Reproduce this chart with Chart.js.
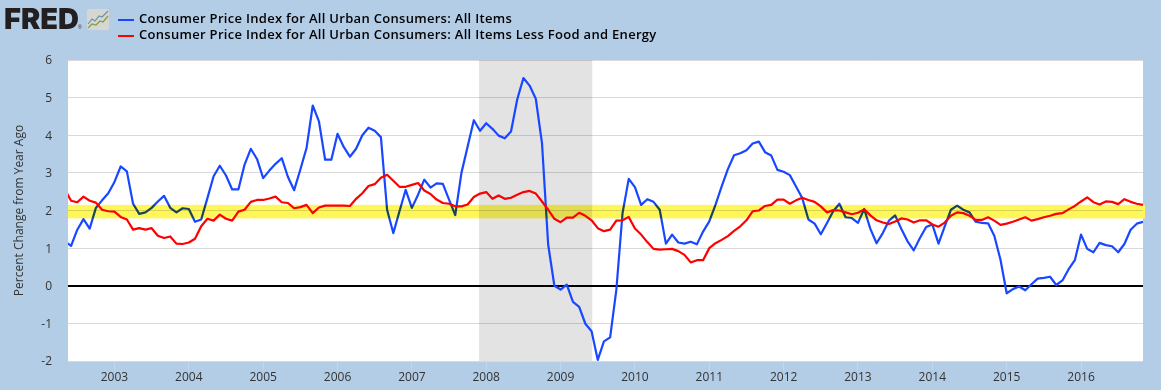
<!DOCTYPE html>
<html>
<head>
  <meta charset="utf-8">
  <title>Consumer Price Index, Percent Change from Year Ago</title>
  <script src="https://cdn.jsdelivr.net/npm/chart.js@4/dist/chart.umd.js"></script>
  <style>
    html, body { margin: 0; padding: 0; background: #b3cde6; }
    #wrap { position: relative; width: 1161px; height: 390px; overflow: hidden; }
    #logo { position: absolute; left: 4px; top: 3px; font: 900 29px/32px "Inter", sans-serif; color: #231f20; letter-spacing: 0; white-space: nowrap; }
    #logo small { font: 400 5px/5px "Liberation Sans", sans-serif; letter-spacing: 0; margin-left: -1px; }
    #icon { position: absolute; left: 87px; top: 9px; }
    #legend { position: absolute; left: 118px; top: 10px; font: 600 13px/16px "Open Sans", sans-serif; color: #000; letter-spacing: 0.3px; }
    #legend div { height: 16px; white-space: nowrap; }
    #legend span { display: inline-block; width: 16px; height: 2px; margin-right: 5px; vertical-align: 2px; }
  </style>
  <script>
    // first point is May 2002, one value per month up to Nov 2016
    var seriesNames = [
      'Consumer Price Index for All Urban Consumers: All Items',
      'Consumer Price Index for All Urban Consumers: All Items Less Food and Energy'
    ];
    var yearLabels = ['2003', '2004', '2005', '2006', '2007', '2008', '2009', '2010', '2011', '2012', '2013', '2014', '2015', '2016'];
    var firstYearIndex = 8; // Jan 2003

    var allItems = [
      1.18, 1.06, 1.49, 1.77, 1.52, 2.07, 2.27, 2.46,
      2.76, 3.17, 3.04, 2.18, 1.91, 1.95, 2.07, 2.24, 2.39, 2.07, 1.95, 2.06,
      2.04, 1.70, 1.76, 2.33, 2.91, 3.19, 2.93, 2.56, 2.56, 3.22, 3.64, 3.37,
      2.86, 3.06, 3.24, 3.39, 2.89, 2.54, 3.09, 3.66, 4.79, 4.37, 3.35, 3.35,
      4.04, 3.69, 3.43, 3.64, 4.00, 4.20, 4.12, 3.95, 2.02, 1.40, 1.98, 2.55,
      2.07, 2.42, 2.82, 2.61, 2.72, 2.71, 2.29, 1.88, 3.00, 3.70, 4.40, 4.12,
      4.32, 4.17, 3.99, 3.92, 4.10, 4.95, 5.52, 5.32, 4.97, 3.79, 1.09, 0.00,
      -0.10, 0.03, -0.43, -0.56, -1.01, -1.21, -1.97, -1.48, -1.37, -0.11, 1.93, 2.84,
      2.62, 2.15, 2.30, 2.23, 2.02, 1.12, 1.36, 1.15, 1.12, 1.17, 1.10, 1.44,
      1.71, 2.15, 2.64, 3.10, 3.47, 3.52, 3.60, 3.78, 3.83, 3.55, 3.46, 3.08,
      3.03, 2.94, 2.64, 2.33, 1.76, 1.65, 1.37, 1.67, 1.98, 2.18, 1.82, 1.80,
      1.67, 2.04, 1.51, 1.13, 1.40, 1.73, 1.87, 1.51, 1.18, 0.94, 1.27, 1.56,
      1.63, 1.12, 1.58, 2.02, 2.13, 2.02, 1.95, 1.70, 1.67, 1.66, 1.33, 0.69,
      -0.20, -0.09, -0.02, -0.12, 0.04, 0.19, 0.21, 0.24, 0.02, 0.14, 0.44, 0.68,
      1.36, 0.98, 0.89, 1.14, 1.08, 1.05, 0.89, 1.11, 1.49, 1.65, 1.70
    ];
    var lessFoodEnergy = [
      2.55, 2.26, 2.22, 2.37, 2.26, 2.21, 2.02, 1.98,
      1.97, 1.83, 1.76, 1.49, 1.53, 1.49, 1.53, 1.33, 1.27, 1.31, 1.12, 1.11,
      1.15, 1.25, 1.58, 1.78, 1.73, 1.89, 1.78, 1.73, 1.97, 2.02, 2.23, 2.28,
      2.28, 2.32, 2.37, 2.22, 2.20, 2.06, 2.09, 2.15, 1.93, 2.08, 2.13, 2.13,
      2.13, 2.13, 2.12, 2.31, 2.46, 2.65, 2.70, 2.87, 2.95, 2.79, 2.63, 2.63,
      2.68, 2.73, 2.53, 2.44, 2.29, 2.20, 2.18, 2.11, 2.11, 2.16, 2.36, 2.45,
      2.49, 2.31, 2.40, 2.31, 2.34, 2.42, 2.49, 2.52, 2.45, 2.24, 2.02, 1.78,
      1.69, 1.81, 1.81, 1.94, 1.86, 1.74, 1.53, 1.45, 1.49, 1.73, 1.74, 1.83,
      1.52, 1.36, 1.16, 0.98, 0.96, 0.97, 0.98, 0.92, 0.82, 0.62, 0.68, 0.68,
      1.00, 1.13, 1.22, 1.32, 1.46, 1.58, 1.74, 1.98, 2.00, 2.12, 2.15, 2.29,
      2.29, 2.18, 2.27, 2.34, 2.28, 2.23, 2.11, 1.95, 2.01, 2.00, 1.95, 1.90,
      1.94, 2.03, 1.87, 1.74, 1.68, 1.64, 1.71, 1.79, 1.76, 1.68, 1.74, 1.74,
      1.63, 1.57, 1.68, 1.86, 1.95, 1.93, 1.86, 1.75, 1.75, 1.82, 1.73, 1.62,
      1.65, 1.70, 1.76, 1.82, 1.73, 1.77, 1.82, 1.86, 1.91, 1.93, 2.03, 2.12,
      2.24, 2.35, 2.22, 2.16, 2.24, 2.23, 2.17, 2.30, 2.23, 2.18, 2.15
    ];
    var recession = [66.85, 85.1];   // Dec 2007 to Jun 2009, in months from May 2002
    var targetBand = [1.79, 2.15];

    function toPoints(values) {
      return values.map(function (v, i) { return { x: i, y: v }; });
    }

    // recession goes under the lines, the yellow band multiplies over the blue line only
    var bands = {
      id: 'bands',
      beforeDraw: function (chart) {
        var a = chart.chartArea, c = chart.ctx;
        c.save();
        c.fillStyle = '#fff';
        c.fillRect(a.left, a.top, a.right - a.left, a.bottom - a.top);
        c.restore();
      },
      beforeDatasetsDraw: function (chart) {
        var a = chart.chartArea, c = chart.ctx, x = chart.scales.x;
        var x0 = x.getPixelForValue(recession[0]);
        var x1 = x.getPixelForValue(recession[1]);
        c.save();
        c.globalCompositeOperation = 'multiply';
        c.fillStyle = '#e3e3e3';
        c.fillRect(x0, a.top, x1 - x0, a.bottom - a.top);
        c.restore();
      },
      afterDatasetDraw: function (chart, args) {
        if (args.index !== 0) return;
        var a = chart.chartArea, c = chart.ctx, y = chart.scales.y;
        var top = y.getPixelForValue(targetBand[1]);
        var bottom = y.getPixelForValue(targetBand[0]);
        c.save();
        c.globalCompositeOperation = 'multiply';
        c.fillStyle = '#fff75a';
        c.fillRect(a.left, top, a.right - a.left + 2, bottom - top);
        c.restore();
      }
    };

    function drawChart() {
      var ctx = document.getElementById('cpi').getContext('2d');
      Chart.defaults.font.family = '"Open Sans", sans-serif';
      Chart.defaults.font.size = 12;
      Chart.defaults.color = '#333';

      var chart = new Chart(ctx, {
        type: 'line',
        data: {
          datasets: [
            { label: seriesNames[0], data: toPoints(allItems), borderColor: '#1947ff', borderWidth: 2.2, borderJoinStyle: 'round', pointRadius: 0, tension: 0, order: 2 },
            { label: seriesNames[1], data: toPoints(lessFoodEnergy), borderColor: '#ff0000', borderWidth: 2.2, borderJoinStyle: 'round', pointRadius: 0, tension: 0, order: 1 }
          ]
        },
        options: {
          responsive: false,
          animation: false,
          devicePixelRatio: 1,
          layout: { padding: { top: 60, right: 18 } },
          plugins: { legend: { display: false }, tooltip: { enabled: false } },
          scales: {
            x: {
              type: 'linear',
              min: 0.5,
              max: 174,
              afterFit: function (s) { s.height = 29; },
              afterBuildTicks: function (s) {
                s.ticks = yearLabels.map(function (y, i) { return { value: firstYearIndex + 12 * i }; });
              },
              border: { display: false },
              grid: { drawOnChartArea: false, color: '#c5d6ea', tickLength: 9 },
              ticks: {
                autoSkip: false,
                maxRotation: 0,
                padding: 0,
                callback: function (v) { return yearLabels[(v - firstYearIndex) / 12]; }
              }
            },
            y: {
              min: -2,
              max: 6,
              afterFit: function (s) { s.width = 68; },
              border: { display: false },
              grid: {
                drawTicks: false,
                color: function (c) { return c.tick.value === 0 ? '#000' : '#d9d9d9'; },
                lineWidth: function (c) { return c.tick.value === 0 ? 2 : 1; }
              },
              ticks: { stepSize: 1, padding: 16, labelOffset: 1 },
              title: { display: true, text: 'Percent Change from Year Ago', color: '#333', padding: { top: 12, bottom: 0 }, font: { size: 12 } }
            }
          }
        },
        plugins: [bands]
      });

      // html legend, two stacked rows like the original
      var legend = document.getElementById('legend');
      chart.data.datasets.forEach(function (d) {
        var row = document.createElement('div');
        var swatch = document.createElement('span');
        swatch.style.background = d.borderColor;
        row.appendChild(swatch);
        row.appendChild(document.createTextNode(d.label));
        legend.appendChild(row);
      });
    }
    window.onload = drawChart;
  </script>
</head>
<body>
  <div id="wrap">
    <canvas id="cpi" width="1161" height="390"></canvas>
    <div id="logo">FRED<small>®</small></div>
    <svg id="icon" width="23" height="22" viewBox="0 0 23 22">
      <rect x="0" y="0" width="22" height="21" rx="2" fill="#d6d6d2"/>
      <polyline points="1,15 5,10 8,12 12,7 15,8 21,2" fill="none" stroke="#6d90ab" stroke-width="1.2"/>
      <polyline points="1,19 5,15 9,16 13,12 16,13 21,7" fill="none" stroke="#7f9f3f" stroke-width="1.2"/>
    </svg>
    <div id="legend"></div>
  </div>
</body>
</html>
